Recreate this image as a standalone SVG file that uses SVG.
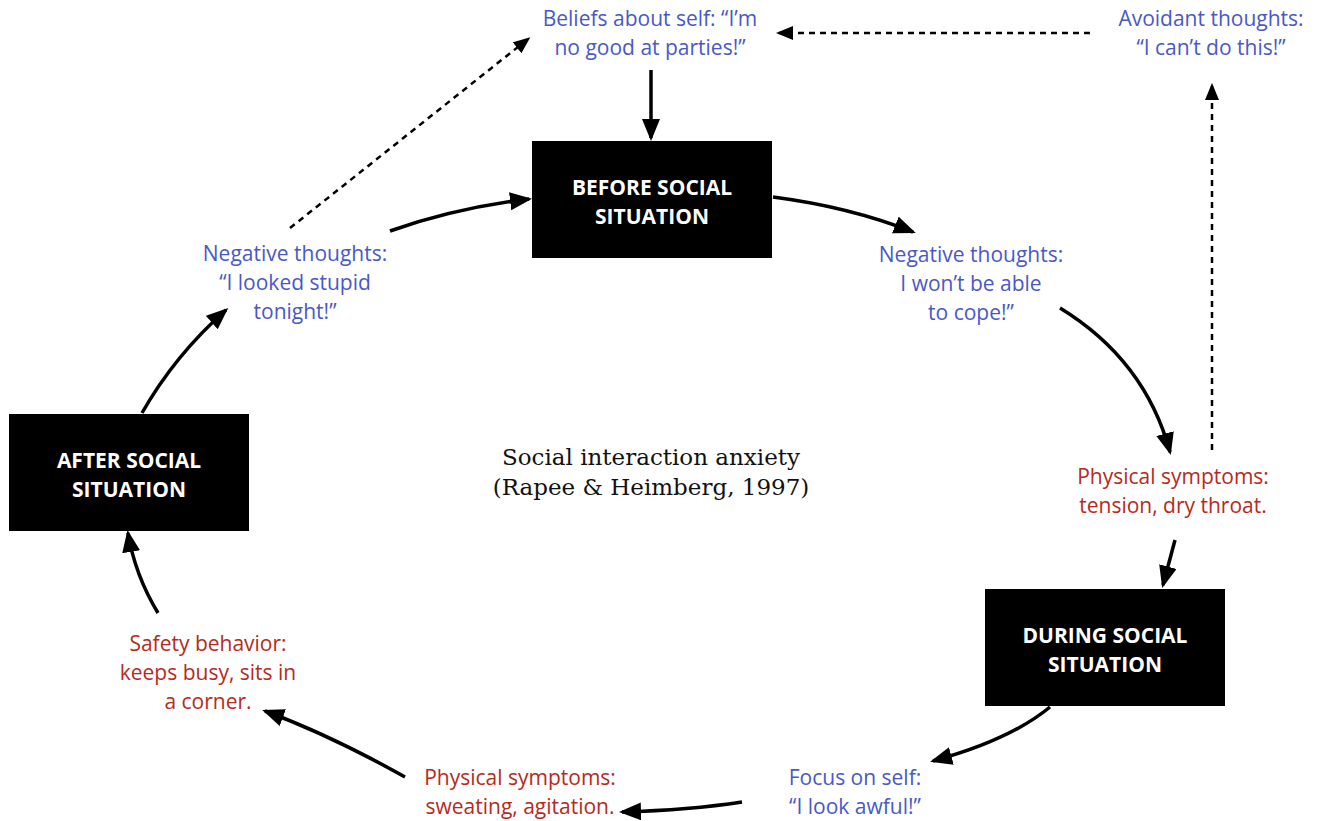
<svg xmlns="http://www.w3.org/2000/svg" width="1318" height="821" viewBox="0 0 1318 821">
<style>
.box{fill:#000}
.bt{font-family:"Open Sans","Liberation Sans",sans-serif;font-weight:bold;font-size:21px;fill:#fff;text-anchor:middle}
.blue{font-family:"Open Sans","Liberation Sans",sans-serif;font-size:21px;fill:#4a58c6;text-anchor:middle}
.red{font-family:"Open Sans","Liberation Sans",sans-serif;font-size:21px;fill:#b62a20;text-anchor:middle}
.title{font-family:"DejaVu Serif","Liberation Serif",serif;font-size:23px;fill:#111;text-anchor:middle}
.solid{fill:none;stroke:#000;stroke-width:3.5;marker-end:url(#ah)}
.dot{fill:none;stroke:#000;stroke-width:2.5;stroke-dasharray:6 5;marker-end:url(#ahs)}
</style>
<defs>
<marker id="ah" markerUnits="userSpaceOnUse" markerWidth="24" markerHeight="20" refX="19" refY="9" orient="auto"><path d="M0,0 L22,9 L0,18 Z" fill="#000"/></marker>
<marker id="ahs" markerUnits="userSpaceOnUse" markerWidth="20" markerHeight="16" refX="14" refY="7" orient="auto"><path d="M0,0 L17,7 L0,14 Z" fill="#000"/></marker>
</defs>
<rect width="1318" height="821" fill="#fff"/>
<g id="connectors">
<path class="solid" d="M651,70 L651,138"/>
<path class="dot" d="M1090,33 L779,33"/>
<path class="dot" d="M1212,450 L1212,86"/>
<path class="dot" d="M290,228 L528,39"/>
<path class="solid" d="M390,231 Q455,208 529,199"/>
<path class="solid" d="M773,197 Q850,207 913,232"/>
<path class="solid" d="M1060,308 Q1145,360 1170,452"/>
<path class="solid" d="M1175,540 L1163,585"/>
<path class="solid" d="M1050,707 Q1010,740 933,761"/>
<path class="solid" d="M742,802 Q690,810 622,812"/>
<path class="solid" d="M405,777 Q330,735 265,711"/>
<path class="solid" d="M158,613 Q135,575 128,533"/>
<path class="solid" d="M142,413 Q175,355 226,310"/>
</g>
<g id="before"><rect class="box" x="532" y="141" width="240" height="117"/><text class="bt" x="652" y="195">BEFORE SOCIAL</text><text class="bt" x="652" y="224">SITUATION</text></g>
<g id="after"><rect class="box" x="9" y="414" width="240" height="117"/><text class="bt" x="129" y="468">AFTER SOCIAL</text><text class="bt" x="129" y="497">SITUATION</text></g>
<g id="during"><rect class="box" x="985" y="589" width="240" height="117"/><text class="bt" x="1105" y="643">DURING SOCIAL</text><text class="bt" x="1105" y="672">SITUATION</text></g>
<g id="beliefs"><text class="blue" x="650" y="26">Beliefs about self: “I’m</text><text class="blue" x="650" y="55">no good at parties!”</text></g>
<g id="avoidant"><text class="blue" x="1211" y="26">Avoidant thoughts:</text><text class="blue" x="1211" y="55">“I can’t do this!”</text></g>
<g id="neg-after"><text class="blue" x="295" y="261">Negative thoughts:</text><text class="blue" x="295" y="290">“I looked stupid</text><text class="blue" x="295" y="319">tonight!”</text></g>
<g id="neg-before"><text class="blue" x="971" y="262">Negative thoughts:</text><text class="blue" x="971" y="291">I won’t be able</text><text class="blue" x="971" y="320">to cope!”</text></g>
<g id="phys-before"><text class="red" x="1173" y="484">Physical symptoms:</text><text class="red" x="1173" y="513">tension, dry throat.</text></g>
<g id="safety"><text class="red" x="208" y="651">Safety behavior:</text><text class="red" x="208" y="680">keeps busy, sits in</text><text class="red" x="208" y="709">a corner.</text></g>
<g id="phys-during"><text class="red" x="520" y="785">Physical symptoms:</text><text class="red" x="520" y="814">sweating, agitation.</text></g>
<g id="focus"><text class="blue" x="855" y="785">Focus on self:</text><text class="blue" x="855" y="814">“I look awful!”</text></g>
<g id="title"><text class="title" x="651" y="465">Social interaction anxiety</text><text class="title" x="651" y="495">(Rapee &amp; Heimberg, 1997)</text></g>
</svg>
